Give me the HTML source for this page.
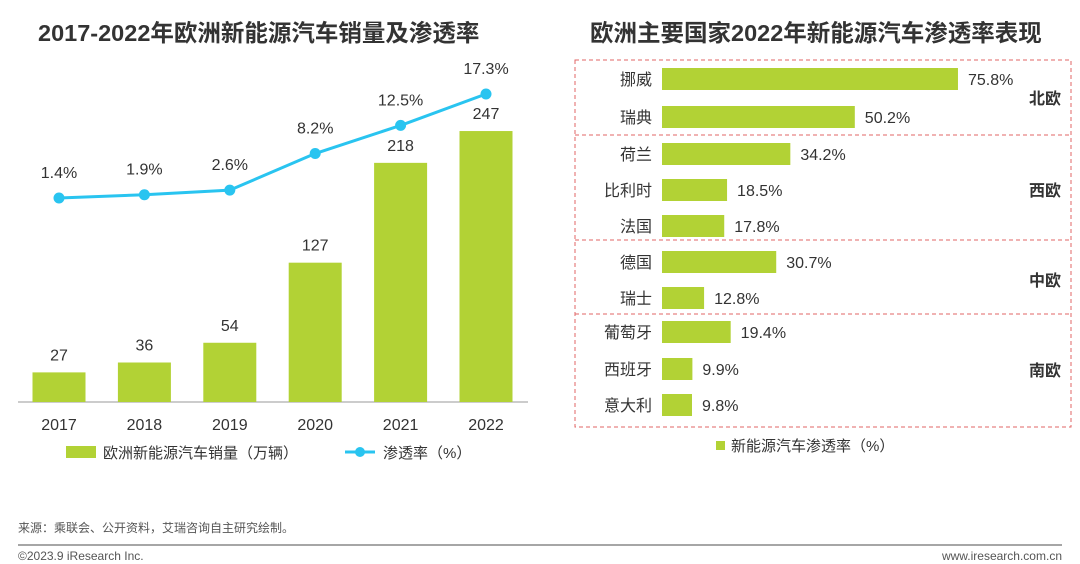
<!DOCTYPE html>
<html><head><meta charset="utf-8">
<style>
body{margin:0;background:#fff;}
svg{display:block;font-family:"Liberation Sans","Noto Sans CJK SC",sans-serif;}
</style></head>
<body>
<svg id="chart" width="1080" height="564" viewBox="0 0 1080 564">
<text x="38" y="41" font-size="23.5" font-weight="bold" fill="#333">2017-2022年欧洲新能源汽车销量及渗透率</text>
<text x="590" y="41" font-size="23.5" font-weight="bold" fill="#333">欧洲主要国家2022年新能源汽车渗透率表现</text>
<line x1="18" y1="402" x2="528" y2="402" stroke="#999" stroke-width="1"/>
<g id="left"></g>
<g id="right"></g>
<rect x="66" y="446" width="30" height="12" fill="#b2d235"/>
<text x="103" y="458" font-size="15" fill="#333">欧洲新能源汽车销量（万辆）</text>
<line x1="345" y1="452" x2="375" y2="452" stroke="#29c4f0" stroke-width="3"/>
<circle cx="360" cy="452" r="5" fill="#29c4f0"/>
<text x="383" y="458" font-size="15" fill="#333">渗透率（%）</text>
<rect x="716" y="441" width="9" height="9" fill="#b2d235"/>
<text x="731" y="451" font-size="15" fill="#333">新能源汽车渗透率（%）</text>
<text x="18" y="532" font-size="12" fill="#555">来源：乘联会、公开资料，艾瑞咨询自主研究绘制。</text>
<line x1="18" y1="545" x2="1062" y2="545" stroke="#888" stroke-width="1.5"/>
<text x="18" y="560" font-size="12" fill="#555">©2023.9 iResearch Inc.</text>
<text x="1062" y="560" font-size="12" fill="#555" text-anchor="end">www.iresearch.com.cn</text>
</svg>
<script>
const years=["2017","2018","2019","2020","2021","2022"];
const sales=[27,36,54,127,218,247];
const rates=[1.4,1.9,2.6,8.2,12.5,17.3];
const countries=["挪威","瑞典","荷兰","比利时","法国","德国","瑞士","葡萄牙","西班牙","意大利"];
const penetration=[75.8,50.2,34.2,18.5,17.8,30.7,12.8,19.4,9.9,9.8];
const regions=["北欧","西欧","中欧","南欧"];
const NS="http://www.w3.org/2000/svg";
function mk(t,a,p){const e=document.createElementNS(NS,t);for(const k in a)e.setAttribute(k,a[k]);p.appendChild(e);return e;}
const L=document.getElementById('left'),R=document.getElementById('right');
const xC=i=>59+i*85.4, yBar=v=>402-v*1.097, yLine=v=>198-(v-1.4)*6.54;
let pts=[];
years.forEach((y,i)=>{
 const b=mk('rect',{x:xC(i)-26.5,y:yBar(sales[i]),width:53,height:402-yBar(sales[i]),fill:'#b2d235'},L);
 
 
 const t=mk('text',{x:xC(i),y:yBar(sales[i])-12,'font-size':16,fill:'#333','text-anchor':'middle'},L);t.textContent=sales[i];
 
 
 const xl=mk('text',{x:xC(i),y:430,'font-size':16,fill:'#333','text-anchor':'middle'},L);xl.textContent=y;
 
 
 pts.push(xC(i)+','+yLine(rates[i]));
});
const pl=mk('polyline',{points:pts.join(' '),fill:'none',stroke:'#29c4f0','stroke-width':3},L);


years.forEach((y,i)=>{
 const c=mk('circle',{cx:xC(i),cy:yLine(rates[i]),r:5.5,fill:'#29c4f0'},L);
 
 
 const t=mk('text',{x:xC(i),y:yLine(rates[i])-20,'font-size':16,fill:'#333','text-anchor':'middle'},L);t.textContent=rates[i].toFixed(1)+'%';
 
 
});
const rowY=[79,117,154,190,226,262,298,332,369,405];
const xV=v=>652.5+v*4.03;
countries.forEach((c,i)=>{
 const b=mk('rect',{x:662,y:rowY[i]-11,width:xV(penetration[i])-662,height:22,fill:'#b2d235'},R);
 
 
 const n=mk('text',{x:652,y:rowY[i]+6,'font-size':16,fill:'#333','text-anchor':'end'},R);n.textContent=c;
 
 
 const v=mk('text',{x:xV(penetration[i])+10,y:rowY[i]+6,'font-size':16,fill:'#333'},R);v.textContent=penetration[i].toFixed(1)+'%';
 
 
});
const box=mk('rect',{x:575,y:60,width:496,height:367,fill:'none',stroke:'#e06666','stroke-dasharray':'4,3'},R);


[135,240,314].forEach((y,i)=>{
 const l=mk('line',{x1:575,y1:y,x2:1071,y2:y,stroke:'#e06666','stroke-dasharray':'4,3'},R);
 
 
});
const regY=[98,190,280,370];
regions.forEach((r,i)=>{
 const t=mk('text',{x:1045,y:regY[i]+6,'font-size':16,'font-weight':'bold',fill:'#333','text-anchor':'middle'},R);t.textContent=r;
 
 
});
</script>
</body></html>
